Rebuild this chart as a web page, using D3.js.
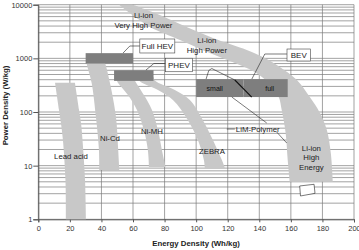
<!DOCTYPE html>
<html>
<head>
<meta charset="utf-8">
<title>Ragone plot</title>
<style>
  body { margin: 0; background: #fff; }
  svg { display: block; font-family: Arial, "Liberation Sans", sans-serif; }
</style>
</head>
<body>
<svg id="chart" width="359" height="250"></svg>
<script src="https://cdn.jsdelivr.net/npm/d3@7/dist/d3.min.js"></script>
<script>
// axis ticks
var energyTicks = [0, 20, 40, 60, 80, 100, 120, 140, 160, 180, 200];
var powerTicks = [1, 10, 100, 1000, 10000];

// technology bands, each edge is a list of [Wh/kg, W/kg] from top to bottom
var leadAcid = {
  left:  [[10.6, 350], [13.1, 110], [14.5, 57], [15.6, 30], [17.2, 5.4], [17.5, 1]],
  right: [[23.2, 350], [25.8, 110], [27.2, 57], [28, 30], [29.6, 5.4], [30.2, 1]]
};
var niCd = {
  left:  [[30.6, 1000], [30.6, 819], [33.8, 347], [36.5, 81], [38.4, 20], [38.6, 8.3]],
  right: [[41, 1000], [42.3, 819], [45.4, 347], [49.2, 81], [50.6, 20], [51.3, 8.3]]
};
var niMH = {
  left:  [[49.8, 450], [49.8, 383], [56.8, 207], [62.5, 109], [66.9, 46], [69.4, 19.6], [70.1, 9.4]],
  right: [[60, 450], [61.2, 383], [66.9, 207], [72, 109], [75.8, 46], [78.3, 19.6], [80.6, 9.4]]
};
var zebra = {
  left:  [[64, 450], [64, 383], [75.8, 257], [85.3, 167], [94.7, 71], [101.1, 30], [104.9, 12.7], [105.5, 9]],
  right: [[73, 450], [74, 383], [86.5, 257], [96, 167], [104.2, 71], [110.6, 30], [116.3, 12.7], [118.2, 9]]
};
var liIon = {
  left:  [[51.1, 10000], [61.4, 5900], [70.7, 3840], [89.7, 2200], [105.5, 1370], [121.3, 890],
          [137.1, 557], [146.6, 333], [152.3, 190], [154.2, 109], [156.7, 40.6], [158, 12.7], [159.3, 5]],
  right: [[59.9, 10000], [73.9, 7000], [89.7, 4365], [110.6, 2395], [132.1, 1432], [143.5, 1015],
          [153, 690], [163.8, 395], [172, 190], [178.4, 96], [182.8, 46], [185.3, 17.2], [186.6, 5]]
};
var liIonFuture = [[165.6, 4.18], [174.7, 4.49], [175.3, 3.05], [166.1, 2.72]];

// vehicle requirement boxes [e0, e1, p0, p1]
var vehicleBoxes = [
  { name: "Full HEV", e: [30, 60], p: [800, 1250] },
  { name: "PHEV", e: [48, 73], p: [380, 600] },
  { name: "small", e: [100, 130], p: [190, 410] },
  { name: "full", e: [130, 158], p: [190, 410] }
];

// LiM-Polymer outline pieces
var limUpper = [[106.3, 412], [108, 594], [109.9, 647], [124.5, 395]];
var limThick = [[124.5, 395], [135.2, 190]];
var limLower = [[122.6, 190], [144.7, 62.4]];
var limLeaderR = [[151, 42.4], [157.4, 26.4]];
var limLeaderL = [[119.4, 48.2], [124.5, 48.2]];

// callouts with leader lines
var callouts = [
  { text: "Full HEV", at: [75.4, 1700], w: 35, h: 14, leader: [[53.7, 1258], [58, 1700], [64.4, 1700]] },
  { text: "PHEV", at: [89.1, 752], w: 27, h: 13.5, leader: [[68.2, 606], [73.2, 802], [80.6, 802]] },
  { text: "BEV", at: [165, 1154], w: 23.5, h: 12, leader: [[135.3, 412], [143.5, 1205], [157.7, 1205]] }
];

// free text labels
var labels = [
  { lines: ["Li-ion", "Very High Power"], at: [66.6, 5100] },
  { lines: ["Li-ion", "High Power"], at: [106.8, 1760] },
  { lines: ["Lead acid"], at: [20.7, 15.1] },
  { lines: ["Ni-Cd"], at: [45.4, 32.8] },
  { lines: ["Ni-MH"], at: [72, 44.2] },
  { lines: ["ZEBRA"], at: [110, 18.8] },
  { lines: ["LiM-Polymer"], at: [139, 48.2] },
  { lines: ["Li-ion", "High", "Energy"], at: [173, 14.2] }
];
var boxLabels = [
  { text: "small", at: [111.8, 280] },
  { text: "full", at: [146.6, 280] }
];

var svg = d3.select("#chart");
var x = d3.scaleLinear().domain([0, 200]).range([38.3, 354]);
var y = d3.scaleLog().domain([1, 10000]).range([219.3, 4.7]);

var bandColor = "#c8c8c8";
var boxColor = "#7e7e7e";
var gridColor = "#7a7a7a";

// grid
var grid = svg.append("g");
grid.selectAll("line.h")
  .data(y.ticks())
  .join("line")
    .attr("class", "h")
    .attr("x1", x(0)).attr("x2", x(200))
    .attr("y1", d => y(d)).attr("y2", d => y(d))
    .attr("stroke", gridColor).attr("stroke-width", 0.7);
grid.selectAll("line.v")
  .data(energyTicks)
  .join("line")
    .attr("class", "v")
    .attr("x1", d => x(d)).attr("x2", d => x(d))
    .attr("y1", y(10000)).attr("y2", y(1))
    .attr("stroke", gridColor).attr("stroke-width", 0.7);

// axes
var xAxis = d3.axisBottom(x).tickValues(energyTicks).tickSize(3).tickPadding(3);
var gx = svg.append("g").attr("transform", `translate(0,${y(1)})`).call(xAxis);
gx.select(".domain").attr("stroke", "#555");
gx.selectAll(".tick line").attr("stroke", "#555");
gx.selectAll("text").attr("font-size", 7.5).attr("fill", "#333").attr("font-family", null);

var yAxis = d3.axisLeft(y).tickValues(powerTicks).tickFormat(d3.format("d")).tickSize(5).tickPadding(1);
var gy = svg.append("g").attr("transform", `translate(${x(0)},0)`).call(yAxis);
gy.select(".domain").attr("stroke", "#555");
gy.selectAll(".tick line").attr("stroke", "#555");
gy.selectAll("text").attr("font-size", 7.5).attr("fill", "#333").attr("font-family", null);

// bands
var edge = d3.line()
  .x(d => x(d[0]))
  .y(d => y(d[1]))
  .curve(d3.curveCatmullRom.alpha(0.5));

function bandPath(b) {
  var a = edge(b.left);
  var c = edge(b.right.slice().reverse());
  return a + "L" + c.slice(1) + "Z";
}

svg.append("g").selectAll("path")
  .data([leadAcid, niCd, niMH, zebra, liIon])
  .join("path")
    .attr("d", bandPath)
    .attr("fill", bandColor);

var straight = d3.line().x(d => x(d[0])).y(d => y(d[1]));

svg.append("path")
  .attr("d", straight(liIonFuture) + "Z")
  .attr("fill", "#fff")
  .attr("stroke", "#222")
  .attr("stroke-width", 0.6);

// requirement boxes
svg.append("g").selectAll("rect")
  .data(vehicleBoxes)
  .join("rect")
    .attr("x", d => x(d.e[0]))
    .attr("width", d => x(d.e[1]) - x(d.e[0]))
    .attr("y", d => y(d.p[1]))
    .attr("height", d => y(d.p[0]) - y(d.p[1]))
    .attr("fill", boxColor);

// LiM-Polymer outline
[limUpper, limLower, limLeaderR, limLeaderL].forEach(function(seg) {
  svg.append("path")
    .attr("d", straight(seg))
    .attr("fill", "none")
    .attr("stroke", "#222")
    .attr("stroke-width", 0.6);
});
svg.append("path")
  .attr("d", straight(limThick))
  .attr("fill", "none")
  .attr("stroke", "#111")
  .attr("stroke-width", 1.1);

// text labels
var lab = svg.append("g").selectAll("text")
  .data(labels)
  .join("text")
    .attr("text-anchor", "middle")
    .attr("font-size", 7.8)
    .attr("fill", "#222")
    .attr("transform", d => `translate(${x(d.at[0])},${y(d.at[1])})`);
lab.selectAll("tspan")
  .data(d => d.lines.map((t, i) => ({ t: t, i: i, n: d.lines.length })))
  .join("tspan")
    .attr("x", 0)
    .attr("y", d => ((d.i - (d.n - 1) / 2) * 9.5 + 2.8))
    .text(d => d.t);

svg.append("g").selectAll("text")
  .data(boxLabels)
  .join("text")
    .attr("x", d => x(d.at[0]))
    .attr("y", d => y(d.at[1]) + 2.5)
    .attr("text-anchor", "middle")
    .attr("font-size", 7)
    .attr("fill", "#111")
    .text(d => d.text);

// callouts
var co = svg.append("g").selectAll("g")
  .data(callouts)
  .join("g");
co.append("path")
  .attr("d", d => straight(d.leader))
  .attr("fill", "none")
  .attr("stroke", "#222")
  .attr("stroke-width", 0.6);
co.append("rect")
  .attr("x", d => x(d.at[0]) - d.w / 2)
  .attr("y", d => y(d.at[1]) - d.h / 2)
  .attr("width", d => d.w)
  .attr("height", d => d.h)
  .attr("fill", "#fff")
  .attr("stroke", "#444")
  .attr("stroke-width", 0.6);
co.append("text")
  .attr("x", d => x(d.at[0]))
  .attr("y", d => y(d.at[1]) + 2.9)
  .attr("text-anchor", "middle")
  .attr("font-size", 8)
  .attr("fill", "#222")
  .text(d => d.text);

// axis titles
svg.append("text")
  .attr("x", 196)
  .attr("y", 246)
  .attr("text-anchor", "middle")
  .attr("font-size", 7.8)
  .attr("font-weight", "bold")
  .attr("fill", "#222")
  .text("Energy Density (Wh/kg)");

svg.append("text")
  .attr("transform", "translate(8,105.5) rotate(-90)")
  .attr("text-anchor", "middle")
  .attr("font-size", 7.8)
  .attr("font-weight", "bold")
  .attr("fill", "#222")
  .text("Power Density (W/kg)");
</script>
</body>
</html>
